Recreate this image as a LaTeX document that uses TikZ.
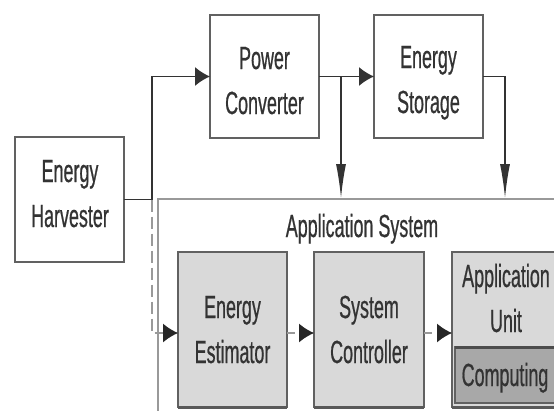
\documentclass[tikz,border=0pt]{standalone}
\usepackage{fontspec}
\setmainfont{Liberation Sans}[FakeStretch=0.56,FakeBold=0.6]
\usetikzlibrary{arrows.meta}
\definecolor{boxfill}{HTML}{D9D9D9}
\definecolor{compfill}{HTML}{A8A8A8}
\begin{document}
\begin{tikzpicture}[x=1pt,y=-1pt,
  box/.style={draw=black!62, line width=1.3pt, inner sep=0pt, outer sep=0pt},
  gbox/.style={box, fill=boxfill},
  lbl/.style={anchor=base, inner sep=0pt, outer sep=0pt, text=black!80, font=\fontsize{32}{45}\selectfont},
  wire/.style={draw=black!80, line width=1.4pt},
  harrow/.style={wire, -{Latex[length=15pt,width=19pt]}},
  varrow/.style={wire, -{Latex[length=34pt,width=10pt]}},
  dharrow/.style={draw=black!40, line width=1.3pt, dash pattern=on 8pt off 5pt, -{Latex[length=15pt,width=19pt,color=black!85]}},
  dvarrow/.style={draw=black!40, line width=1.3pt, dash pattern=on 12pt off 5pt, -{Latex[length=15pt,width=19pt,color=black!85]}}
]
\useasboundingbox (0,0) rectangle (554,410);
\clip (0,0) rectangle (554,410);

% Application system frame (extends beyond the picture)
\node[draw=black!40, line width=1.8pt, inner sep=0pt, minimum width=462pt, minimum height=261pt] (appsys) at (389,329.5) {};
\node[lbl] (appsysT) at (362,237) {Application System};

% top boxes
\node[box, minimum width=109pt, minimum height=125pt] (harv) at (69.5,199.5) {};
\node[box, minimum width=109pt, minimum height=123pt] (pc) at (264.5,76.5) {};
\node[box, minimum width=109pt, minimum height=123pt] (es) at (428.5,76.5) {};

\node[lbl] (harvT) at (70,182) {\begin{tabular}[t]{@{}c@{}}Energy\\Harvester\end{tabular}};
\node[lbl] (pcT) at (264.5,69) {\begin{tabular}[t]{@{}c@{}}Power\\Converter\end{tabular}};
\node[lbl] (esT) at (428.5,68) {\begin{tabular}[t]{@{}c@{}}Energy\\Storage\end{tabular}};

% inner boxes
\node[gbox, minimum width=109pt, minimum height=155pt] (est) at (232.5,329.5) {};
\node[gbox, minimum width=110pt, minimum height=155pt] (ctrl) at (369,329.5) {};
\node[gbox, minimum width=110pt, minimum height=155pt] (app) at (507,329.5) {};
\node[box, fill=compfill, minimum width=104pt, minimum height=56pt] (comp) at (507,375) {};
\draw[line width=3pt, black!70] (comp.north west) -- (comp.north east);
\draw[line width=3pt, black!65] (est.south west) -- (est.south east);
\draw[line width=3pt, black!65] (ctrl.south west) -- (ctrl.south east);
\draw[line width=3pt, black!65] (app.south west) -- (app.south east);

\node[lbl] (estT) at (232.5,318) {\begin{tabular}[t]{@{}c@{}}Energy\\Estimator\end{tabular}};
\node[lbl] (ctrlT) at (369,318) {\begin{tabular}[t]{@{}c@{}}System\\Controller\end{tabular}};
\node[lbl] (appT) at (506,287) {\begin{tabular}[t]{@{}c@{}}Application\\Unit\end{tabular}};
\node[lbl] (compT) at (505,386) {Computing};

% connectors
\coordinate (J) at (152,199.5);
\coordinate (B1) at (341,76.5);
\coordinate (B2) at (505,76.5);
\draw[harrow] (harv.east) -- (J) |- (pc.west);
\draw[dvarrow] (J) |- ([yshift=-3.5pt]est.west);
\draw[harrow] (pc.east) -- (es.west);
\draw[varrow] (B1) -- (B1 |- appsys.north);
\draw[varrow] (es.east) -| (B2 |- appsys.north);
\draw[dharrow] ([yshift=-3.5pt]est.east) -- ([yshift=-3.5pt]ctrl.west);
\draw[dharrow] ([yshift=-3.5pt]ctrl.east) -- ([yshift=-3.5pt]app.west);
\end{tikzpicture}
\end{document}
